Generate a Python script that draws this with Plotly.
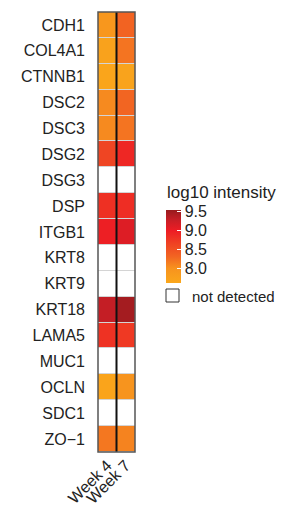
import plotly.graph_objects as go
import numpy as np

genes = ["CDH1", "COL4A1", "CTNNB1", "DSC2", "DSC3", "DSG2", "DSG3", "DSP", "ITGB1",
         "KRT8", "KRT9", "KRT18", "LAMA5", "MUC1", "OCLN", "SDC1", "ZO\u22121"]
weeks = ["Week 4", "Week 7"]
week4 = [7.92, 7.70, 7.64, 8.05, 8.05, 8.62, None, 8.82, 8.98, None, None, 9.30, 8.80, None, 7.66, None, 8.18]
week7 = [8.32, 8.20, 7.68, 8.30, 8.20, 8.90, None, 8.85, 9.12, None, None, 9.48, 8.74, None, 7.98, None, 8.10]
cb_ticks = [8.0, 8.5, 9.0, 9.5]
zmin, zmax = 7.6, 9.55

z = [[a if a is not None else np.nan, b if b is not None else np.nan] for a, b in zip(week4, week7)]

OFF = 8  # page body margin
W, H = 287 - OFF, 507 - OFF
L, R, T, B = 98 - OFF, 135 - OFF, 12 - OFF, 452 - OFF

def px(x):
    return (x - OFF - L) / (R - L)

def py(y):
    return (B - (y - OFF)) / (B - T)

cs = [[0.0, "#FAA71B"], [0.2, "#F7931E"], [0.36, "#F26522"], [0.55, "#EF4023"],
      [0.72, "#ED1C24"], [0.86, "#C81E26"], [1.0, "#981B1E"]]

fig = go.Figure()
# white background cells (for not detected)
fig.add_trace(go.Heatmap(z=[[1, 1] for _ in genes], x=weeks, y=genes,
                         colorscale=[[0, "white"], [1, "white"]], showscale=False,
                         ygap=1, hoverinfo="skip"))
fig.add_trace(go.Heatmap(
    z=z, x=weeks, y=genes, colorscale=cs, zmin=zmin, zmax=zmax, ygap=1,
    colorbar=dict(
        thickness=15, thicknessmode="pixels", len=73, lenmode="pixels",
        x=px(166), xanchor="left", xpad=0,
        y=py(210), yanchor="top", ypad=0,
        tickvals=cb_ticks, ticktext=[f"{t:.1f}" for t in cb_ticks],
        ticks="inside", ticklen=4, tickcolor="white", tickwidth=1,
        outlinewidth=0, tickfont=dict(size=16, color="#222"),
    )))

shapes = [
    dict(type="line", xref="paper", yref="paper", x0=0.5, x1=0.5, y0=0, y1=1,
         line=dict(color="#111", width=2)),
    dict(type="rect", xref="paper", yref="paper", x0=0, x1=1, y0=0, y1=1,
         line=dict(color="#555", width=1.5)),
    dict(type="rect", xref="paper", yref="paper", x0=px(166), x1=px(179), y0=py(302), y1=py(289),
         line=dict(color="#333", width=1), fillcolor="white"),
]
annotations = [
    dict(text="log10 intensity", xref="paper", yref="paper", x=px(165), y=py(192),
         xanchor="left", yanchor="middle", showarrow=False, font=dict(size=17, color="#222")),
    dict(text="not detected", xref="paper", yref="paper", x=px(190), y=py(296),
         xanchor="left", yanchor="middle", showarrow=False, font=dict(size=15, color="#222")),
]

fig.update_layout(
    width=W, height=H, margin=dict(l=L, r=W - R, t=T, b=H - B, autoexpand=False),
    paper_bgcolor="white", plot_bgcolor="#d4d4d4",
    font=dict(family="Liberation Sans, Arial", size=16, color="#222"),
    shapes=shapes, annotations=annotations,
    xaxis=dict(tickangle=-45, showgrid=False, zeroline=False, ticks="", tickfont=dict(size=16),
               tickmode="array", tickvals=weeks, ticktext=weeks, automargin=False),
    yaxis=dict(autorange="reversed", showgrid=False, zeroline=False, ticks="",
               ticklabelstandoff=12, tickfont=dict(size=16), automargin=False,
               tickmode="array", tickvals=genes, ticktext=genes),
)
fig.write_html("out.html")
